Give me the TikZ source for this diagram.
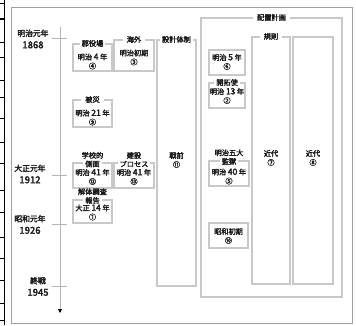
\documentclass[tikz,border=0pt]{standalone}
\usepackage{fontspec}
\setmainfont{Noto Sans CJK JP}[FakeBold=2.6]
\usetikzlibrary{arrows.meta}
\definecolor{bxc}{HTML}{C8C8C8}
\definecolor{frc}{HTML}{A0A0A0}
\definecolor{tlc}{HTML}{B4B4B4}
\definecolor{txc}{HTML}{1A1A1A}
\newcommand{\dg}[1]{{\fontsize{8.5}{9}\selectfont #1}}
\begin{document}
\begin{tikzpicture}[x=1pt,y=-1pt,
  every node/.style={inner sep=0pt, text=txc, font=\fontsize{7.2}{9}\selectfont},
  bx/.style={draw=bxc, line width=1.1pt, rectangle, inner sep=0pt},
  ttl/.style={fill=white, inner xsep=2pt, inner ysep=0.6pt, align=center},
  ttlup/.style={align=center},
  ct/.style={align=center},
  yr/.style={align=center, font=\fontsize{7.8}{12}\selectfont},
  tick/.style={draw=tlc, line width=0.8pt},
  edge/.style={draw=black, line width=0.8pt}]
\useasboundingbox (0,0) rectangle (356,325);
% left table fragments
\draw[edge] (4,0) -- (4,325);
\foreach \yy in {3,42,57,80,97,118,142,163,190,212,237,258,280,303,320}
  \draw[edge] (0,\yy) -- (4,\yy);
\draw[edge, line width=1.6pt] (0,19) -- (4,19);
% outer frame
\draw[draw=frc, line width=0.8pt] (11,7) rectangle (352,323);
% timeline
\coordinate (tl0) at (60,27);
\coordinate (tl1) at (60,313);
\draw[draw=tlc, line width=0.9pt, -{Triangle[length=4pt,width=4pt,color=black]}] (tl0) -- (tl1);
\foreach \yy in {38,175,224,286} \draw[tick] (52,\yy) -- (67,\yy);
\node[yr] (y1) at (33,39) {明治元年\\{\fontsize{9.5}{12}\selectfont 1868}};
\node[yr] (y2) at (30,174) {大正元年\\{\fontsize{9.5}{12}\selectfont 1912}};
\node[yr] (y3) at (30,224.5) {昭和元年\\{\fontsize{9.5}{12}\selectfont 1926}};
\node[yr] (y4) at (38,286.5) {終戦\\{\fontsize{9.5}{12}\selectfont 1945}};
% big boxes
\node[bx, minimum width=141pt, minimum height=279pt] (haichi) at (271.5,157.5) {};
\node[ttl, inner xsep=4pt] (haichi-h) at (haichi.north) {配置計画};
\node[bx, minimum width=39pt, minimum height=246pt] (sekkei) at (176.5,163) {};
\node[ttl] (sekkei-h) at (sekkei.north) {設計体制};
\node[ct] (sekkei-t) at (176.5,160) {戦前\\⑪};
\node[bx, minimum width=38pt, minimum height=247pt] (kisoku) at (271,160.5) {};
\node[ttl, inner xsep=4pt] (kisoku-h) at (kisoku.north) {規則};
\node[ct] (kisoku-t) at (271,158) {近代\\⑦};
\node[bx, minimum width=40pt, minimum height=247pt] (kindai) at (313,160.5) {};
\node[ct] (kindai-t) at (313,158) {近代\\⑧};
% left column
\node[bx, minimum width=39pt, minimum height=27pt] (gun) at (92.5,57.5) {};
\node[ttl] (gun-h) at (gun.north) {郡役場};
\node[ct] (gun-t) at (92.5,61.5) {明治 \dg{4} 年\\④};
\node[bx, minimum width=40pt, minimum height=31pt] (kaigai) at (134,55.5) {};
\node[ttl, inner xsep=4pt] (kaigai-h) at (kaigai.north) {海外};
\node[ct] (kaigai-t) at (134,57.5) {明治初期\\③};
\node[bx, minimum width=39pt, minimum height=27pt] (hisai) at (92.5,113.5) {};
\node[ttl, inner xsep=4pt] (hisai-h) at (hisai.north) {被災};
\node[ct] (hisai-t) at (92.5,117.5) {明治 \dg{21} 年\\⑨};
\node[bx, minimum width=39pt, minimum height=25pt] (gakko) at (92.5,175.5) {};
\node[ttl] (gakko-h) at ([yshift=-1.5pt]gakko.north) {側面};
\node[ttlup, anchor=south] (gakko-h2) at ([yshift=1pt]gakko-h.north) {学校的};
\node[ct] (gakko-t) at (92.5,177) {明治 \dg{41} 年\\⑫};
\node[bx, minimum width=40pt, minimum height=25pt] (kensetsu) at (134,175.5) {};
\node[ttl] (kensetsu-h) at ([yshift=-1.5pt]kensetsu.north) {プロセス};
\node[ttlup, anchor=south] (kensetsu-h2) at ([yshift=1pt]kensetsu-h.north) {建設};
\node[ct] (kensetsu-t) at (134,177) {明治 \dg{41} 年\\⑬};
\node[bx, minimum width=39pt, minimum height=23pt] (kaitai) at (92.5,211.5) {};
\node[ttl] (kaitai-h) at ([yshift=-1pt]kaitai.north) {報告};
\node[ttlup, anchor=south] (kaitai-h2) at ([yshift=1pt]kaitai-h.north) {解体調査};
\node[ct] (kaitai-t) at (92.5,212.5) {大正 \dg{14} 年\\①};
% haichi inner column
\node[bx, minimum width=36pt, minimum height=25pt] (m5) at (227,62.5) {};
\node[ct] (m5-t) at (227,62) {明治 \dg{5} 年\\⑥};
\node[bx, minimum width=36pt, minimum height=25pt] (kaitaku) at (227,95.5) {};
\node[ttl] (kaitaku-h) at (kaitaku.north) {開拓使};
\node[ct] (kaitaku-t) at (227,96) {明治 \dg{13} 年\\②};
\node[bx, minimum width=40pt, minimum height=25pt] (kangoku) at (229,173.5) {};
\node[ttl] (kangoku-h) at ([yshift=-1pt]kangoku.north) {監獄};
\node[ttlup, anchor=south] (kangoku-h2) at ([yshift=1pt]kangoku-h.north) {明治五大};
\node[ct] (kangoku-t) at (229,176.5) {明治 \dg{40} 年\\⑤};
\node[bx, minimum width=39pt, minimum height=25pt] (showa) at (228.5,235.5) {};
\node[ct] (showa-t) at (228.5,236) {昭和初期\\⑩};
\end{tikzpicture}
\end{document}
